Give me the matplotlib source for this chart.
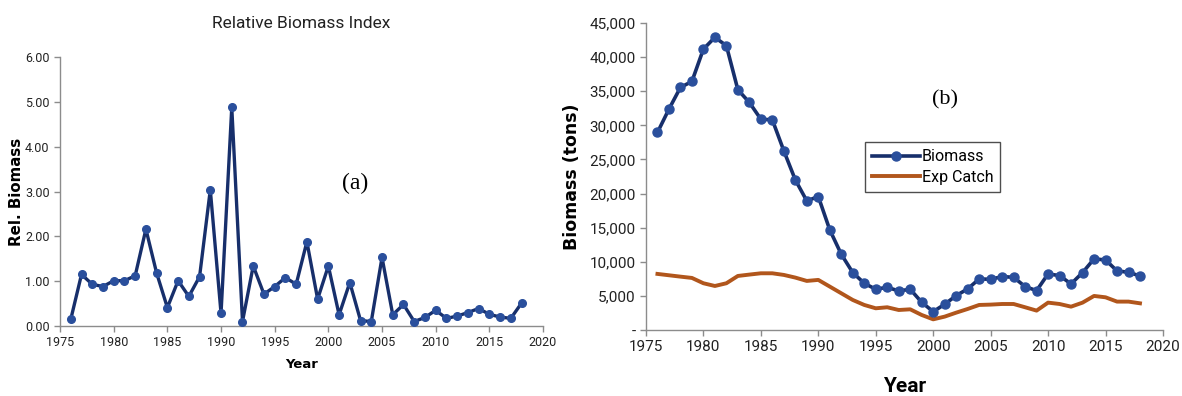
import matplotlib
matplotlib.use("Agg")
import matplotlib.pyplot as plt
from matplotlib.ticker import FuncFormatter, MultipleLocator

# ---- data ----
years = list(range(1976, 2019))

rel_biomass = [0.15, 1.15, 0.93, 0.88, 1.01, 1.01, 1.12, 2.16, 1.18, 0.41,
               1.01, 0.66, 1.10, 3.04, 0.28, 4.88, 0.10, 1.34, 0.71, 0.88,
               1.08, 0.93, 1.88, 0.60, 1.34, 0.25, 0.97, 0.12, 0.10, 1.53,
               0.25, 0.48, 0.10, 0.19, 0.35, 0.17, 0.22, 0.30, 0.39, 0.26,
               0.20, 0.17, 0.51]

biomass = [28950, 32370, 35550, 36430, 41170, 42890, 41670, 35210, 33350, 30900,
           30800, 26260, 22000, 18920, 19560, 14670, 11100, 8410, 6850, 5970,
           6260, 5720, 5970, 4060, 2690, 3770, 5040, 6020, 7480, 7430,
           7820, 7730, 6360, 5770, 8220, 7970, 6750, 8410, 10420, 10270,
           8660, 8460, 7920]

exp_catch = [8220, 8020, 7820, 7630, 6850, 6450, 6850, 7920, 8120, 8310,
             8310, 8070, 7680, 7190, 7340, 6360, 5380, 4400, 3670, 3180,
             3330, 2930, 3030, 2200, 1560, 1960, 2540, 3080, 3670, 3720,
             3810, 3810, 3330, 2840, 4010, 3810, 3420, 4010, 4990, 4790,
             4160, 4160, 3910]

# ---- style ----
NAVY = "#172f6b"
MARK = "#2a4f9c"
ORANGE = "#b1561c"
AXIS_GREY = "#8c8c8c"
TICK_FONT = ["Roboto", "DejaVu Sans"]
LABEL_FONT = ["DejaVu Sans"]
SERIF = ["Liberation Serif", "DejaVu Serif"]

fig = plt.figure(figsize=(11.82, 3.96), dpi=100)

def style_axes(ax, size):
    for side in ("top", "right"):
        ax.spines[side].set_visible(False)
    for side in ("left", "bottom"):
        ax.spines[side].set_color(AXIS_GREY)
        ax.spines[side].set_linewidth(1.0)
    ax.tick_params(axis="both", colors=AXIS_GREY, labelcolor="#222222",
                   length=4, width=1.0, direction="out", labelsize=size)
    for lab in ax.get_xticklabels() + ax.get_yticklabels():
        lab.set_family(TICK_FONT)

# ---- (a) relative biomass index ----
ax1 = fig.add_axes([0.0508, 0.1768, 0.4086, 0.6792])
ax1.plot(years, rel_biomass, color=NAVY, lw=2.4, marker="o", ms=5.5,
         mfc=MARK, mec=MARK, zorder=3)
ax1.set_xlim(1975, 2020)
ax1.set_ylim(0, 6)
ax1.xaxis.set_major_locator(MultipleLocator(5))
ax1.yaxis.set_major_locator(MultipleLocator(1))
ax1.yaxis.set_major_formatter(FuncFormatter(lambda v, p: f"{v:.2f}"))
style_axes(ax1, 9)
ax1.set_ylabel("Rel. Biomass", family=LABEL_FONT, fontweight="bold",
               fontsize=10.8, labelpad=1)
ax1.set_xlabel("Year", family=LABEL_FONT, fontweight="bold",
               fontsize=9.5, labelpad=6)
ax1.set_title("Relative Biomass Index", family=TICK_FONT, fontsize=12.5,
              pad=21, color="#222222")
ax1.text(0.61, 0.53, "(a)", transform=ax1.transAxes, family=SERIF,
         fontsize=17, ha="center", va="center")

# ---- (b) biomass and expected catch ----
ax2 = fig.add_axes([0.5465, 0.1667, 0.4374, 0.7753])
ax2.plot(years, biomass, color=NAVY, lw=2.6, marker="o", ms=6.5,
         mfc=MARK, mec=MARK, label="Biomass", zorder=3)
ax2.plot(years, exp_catch, color=ORANGE, lw=2.8, label="Exp Catch", zorder=2)
ax2.set_xlim(1975, 2020)
ax2.set_ylim(0, 45000)
ax2.xaxis.set_major_locator(MultipleLocator(5))
ax2.yaxis.set_major_locator(MultipleLocator(5000))
ax2.yaxis.set_major_formatter(
    FuncFormatter(lambda v, p: "-" if v == 0 else f"{int(v):,}"))
style_axes(ax2, 11)
ax2.set_ylabel("Biomass (tons)", family=LABEL_FONT, fontweight="bold",
               fontsize=12.5, labelpad=6)
ax2.set_xlabel("Year", family=TICK_FONT, fontweight="bold",
               fontsize=15, labelpad=16)
ax2.text(0.578, 0.75, "(b)", transform=ax2.transAxes, family=SERIF,
         fontsize=16, ha="center", va="center")
leg = ax2.legend(loc="upper left", bbox_to_anchor=(0.4236, 0.612),
                 borderaxespad=0, frameon=True, fancybox=False,
                 edgecolor="#222222", handlelength=3.0, handletextpad=0.1,
                 borderpad=0.45, labelspacing=0.35,
                 prop={"family": TICK_FONT, "size": 11.5})
leg.get_frame().set_linewidth(1.0)

fig.savefig("out.png", dpi=100, facecolor="white")
